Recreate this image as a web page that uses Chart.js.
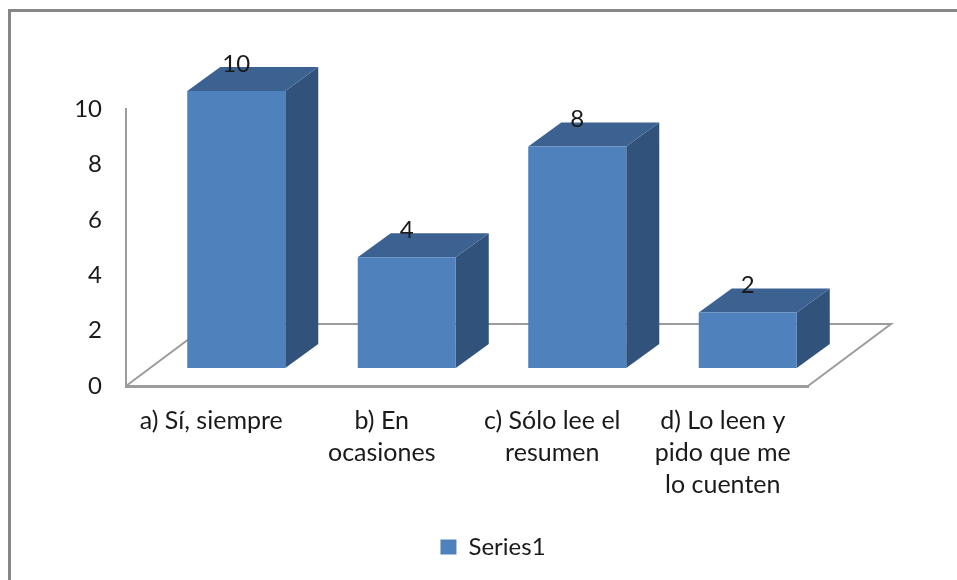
<!DOCTYPE html>
<html lang="es">

<head>
    <meta charset="UTF-8">
    <title>Series1</title>
    <script src="https://cdn.jsdelivr.net/npm/chart.js"></script>
    <style>
        html, body { margin: 0; background: #fff; overflow: hidden; }
        #frame { position: absolute; left: 8px; top: 9px; right: 0; bottom: 0; border-left: 3px solid #868686; border-top: 3px solid #868686; }
        #box { position: absolute; left: 0; top: 0; width: 957px; height: 580px; }
    </style>
</head>

<body>
    <div id="frame"></div>
    <div id="box"><canvas id="chart"></canvas></div>

    <script>
        const categories = [
            'a) Sí, siempre',
            ['b) En', 'ocasiones'],
            ['c) Sólo lee el', 'resumen'],
            ['d) Lo leen y', 'pido que me', 'lo cuenten']
        ];
        const seriesName = 'Series1';
        const seriesValues = [10, 4, 8, 2];
        const axisMax = 10;
        const axisStep = 2;

        const FONT = 'Lato';
        const TEXT = '#1a1a1a';
        const AXIS = '#9c9c9c';

        // the 3D look: bars sit forward of the axes, and have a depth
        const barShift = { x: 25, y: -18 };
        const barDepth = { x: 33, y: -24 };
        const floorDepth = { x: 83, y: -62 };

        const threeD = {
            id: 'threeD',
            afterLayout(chart) {
                // legend is off centre in the original
                chart.legend.left += 56;
                chart.legend.right += 56;
            },
            beforeDatasetsDraw(chart) {
                const { ctx, chartArea: a } = chart;
                ctx.save();
                ctx.strokeStyle = AXIS;
                ctx.lineWidth = 2;
                ctx.beginPath();
                ctx.moveTo(a.left, a.bottom);
                ctx.lineTo(a.left + floorDepth.x, a.bottom + floorDepth.y);
                ctx.lineTo(a.right + floorDepth.x, a.bottom + floorDepth.y);
                ctx.lineTo(a.right, a.bottom);
                ctx.stroke();
                ctx.restore();

                ctx.save();
                ctx.translate(barShift.x, barShift.y);
                chart.getDatasetMeta(0).data.forEach(bar => {
                    const l = bar.x - bar.width / 2;
                    const r = bar.x + bar.width / 2;
                    ctx.fillStyle = '#31527b';
                    ctx.beginPath();
                    ctx.moveTo(r, bar.y);
                    ctx.lineTo(r + barDepth.x, bar.y + barDepth.y);
                    ctx.lineTo(r + barDepth.x, bar.base + barDepth.y);
                    ctx.lineTo(r, bar.base);
                    ctx.closePath();
                    ctx.fill();
                    ctx.fillStyle = '#3c6291';
                    ctx.beginPath();
                    ctx.moveTo(l, bar.y);
                    ctx.lineTo(l + barDepth.x, bar.y + barDepth.y);
                    ctx.lineTo(r + barDepth.x, bar.y + barDepth.y);
                    ctx.lineTo(r, bar.y);
                    ctx.closePath();
                    ctx.fill();
                });
            },
            afterDatasetsDraw(chart) {
                const { ctx } = chart;
                ctx.restore();
                ctx.save();
                ctx.font = '24px ' + FONT;
                ctx.fillStyle = TEXT;
                ctx.textAlign = 'center';
                ctx.textBaseline = 'middle';
                chart.getDatasetMeta(0).data.forEach((bar, i) => {
                    ctx.fillText(seriesValues[i], bar.x + barShift.x, bar.y + barShift.y - 27);
                });
                ctx.restore();
            }
        };

        new Chart(document.getElementById('chart'), {
            type: 'bar',
            data: {
                labels: categories,
                datasets: [{
                    label: seriesName,
                    data: seriesValues,
                    backgroundColor: '#4f81bd',
                    barPercentage: 0.575,
                    categoryPercentage: 1,
                    clip: false
                }]
            },
            options: {
                responsive: true,
                maintainAspectRatio: false,
                animation: false,
                layout: { padding: { left: 66, top: 109, right: 149, bottom: 11 } },
                scales: {
                    x: {
                        grid: { display: false },
                        border: { color: AXIS, width: 3 },
                        ticks: { color: TEXT, font: { family: FONT, size: 25, lineHeight: 1.28 }, padding: 11, maxRotation: 0, autoSkip: false },
                        afterFit(scale) { scale.height = 139; }
                    },
                    y: {
                        min: 0,
                        max: axisMax,
                        grid: { display: false },
                        border: { color: AXIS, width: 2 },
                        ticks: { stepSize: axisStep, color: TEXT, font: { family: FONT, size: 24 }, padding: 16 },
                        afterFit(scale) { scale.width = 60; }
                    }
                },
                plugins: {
                    tooltip: { enabled: false },
                    legend: {
                        position: 'bottom',
                        labels: { color: TEXT, font: { family: FONT, size: 24 }, boxWidth: 16, boxHeight: 15, padding: 10 }
                    }
                }
            },
            plugins: [threeD]
        });
    </script>
</body>

</html>
